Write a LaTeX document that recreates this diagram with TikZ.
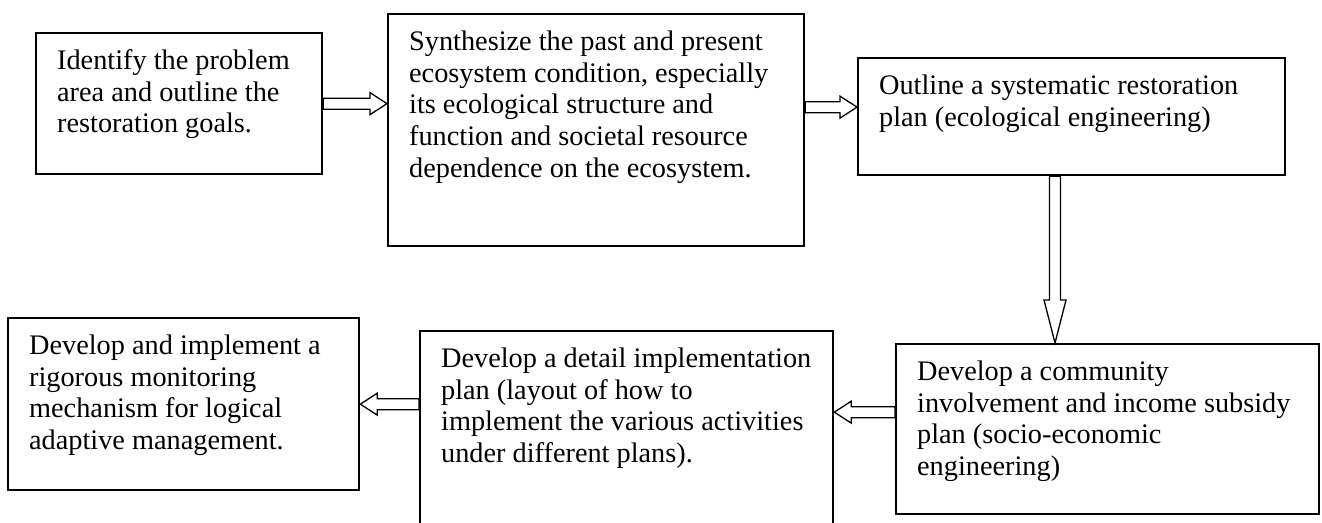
\documentclass[tikz,border=0pt]{standalone}
\usepackage{fontspec}
\setmainfont{Liberation Serif}
\usetikzlibrary{calc}
\newcommand{\steptext}[3]{%
	\parbox[c][#2][t]{#1}{\raggedright\leftskip=21pt\vspace*{14pt}\strut #3}%
}

\begin{document}
\begin{tikzpicture}[x=1pt, y=-1pt,
	stepbox/.style={draw, line width=2.3pt, inner sep=0pt, anchor=north west,
		font=\fontsize{28.3pt}{31.7pt}\selectfont},
	hollowarrow/.style={draw, line width=1.3pt, fill=white, line join=miter,
		to path={let \p1=(\tikztostart), \p2=(\tikztotarget),
			\n1={atan2(\y2-\y1,\x2-\x1)} in
			($(\p1)+(\n1+90:5.5pt)$) -- ($(\p2)+(\n1+180:#1pt)+(\n1+90:5.5pt)$)
			-- ($(\p2)+(\n1+180:#1pt)+(\n1+90:11pt)$) -- (\p2)
			-- ($(\p2)+(\n1+180:#1pt)+(\n1-90:11pt)$)
			-- ($(\p2)+(\n1+180:#1pt)+(\n1-90:5.5pt)$)
			-- ($(\p1)+(\n1-90:5.5pt)$) -- cycle}},
	hollowarrow/.default=17]

\useasboundingbox (0,0) rectangle (1322,522);

% top row
\node[stepbox] (goals) at (35,32) {\steptext{286pt}{141pt}{Identify the problem\\
	area and outline the\\ restoration goals.}};
\node[stepbox] (synth) at (387,13) {\steptext{416pt}{232pt}{Synthesize the past and present\\
	ecosystem condition, especially\\ its ecological structure and\\
	function and societal resource\\ dependence on the ecosystem.}};
\node[stepbox] (outline) at (857,57) {\steptext{427pt}{117pt}{Outline a systematic restoration\\
	plan (ecological engineering)}};

% bottom row
\node[stepbox] (community) at (895,343) {\steptext{423pt}{170pt}{Develop a community\\
	involvement and income subsidy\\ plan (socio-economic\\ engineering)}};
\node[stepbox] (detail) at (419,330) {\steptext{413pt}{215pt}{Develop a detail implementation\\
	plan (layout of how to\\ implement the various activities\\ under different plans).}};
\node[stepbox] (monitor) at (7,317) {\steptext{351pt}{172pt}{Develop and implement a\\
	rigorous monitoring\\ mechanism for logical\\ adaptive management.}};

% arrows
\coordinate (synthout) at ([yshift=23pt]synth.east);
\coordinate (downx) at (1055,0);
\coordinate (commout) at ([yshift=17pt]community.west);

\draw[hollowarrow] (goals.east) to (goals.east -| synth.west);
\draw[hollowarrow] (synthout) to (synthout -| outline.west);
\draw[hollowarrow=43] (outline.south -| downx) to (community.north -| downx);
\draw[hollowarrow] (commout) to (commout -| detail.east);
\draw[hollowarrow] (detail.west |- monitor.east) to (monitor.east);
\end{tikzpicture}
\end{document}
